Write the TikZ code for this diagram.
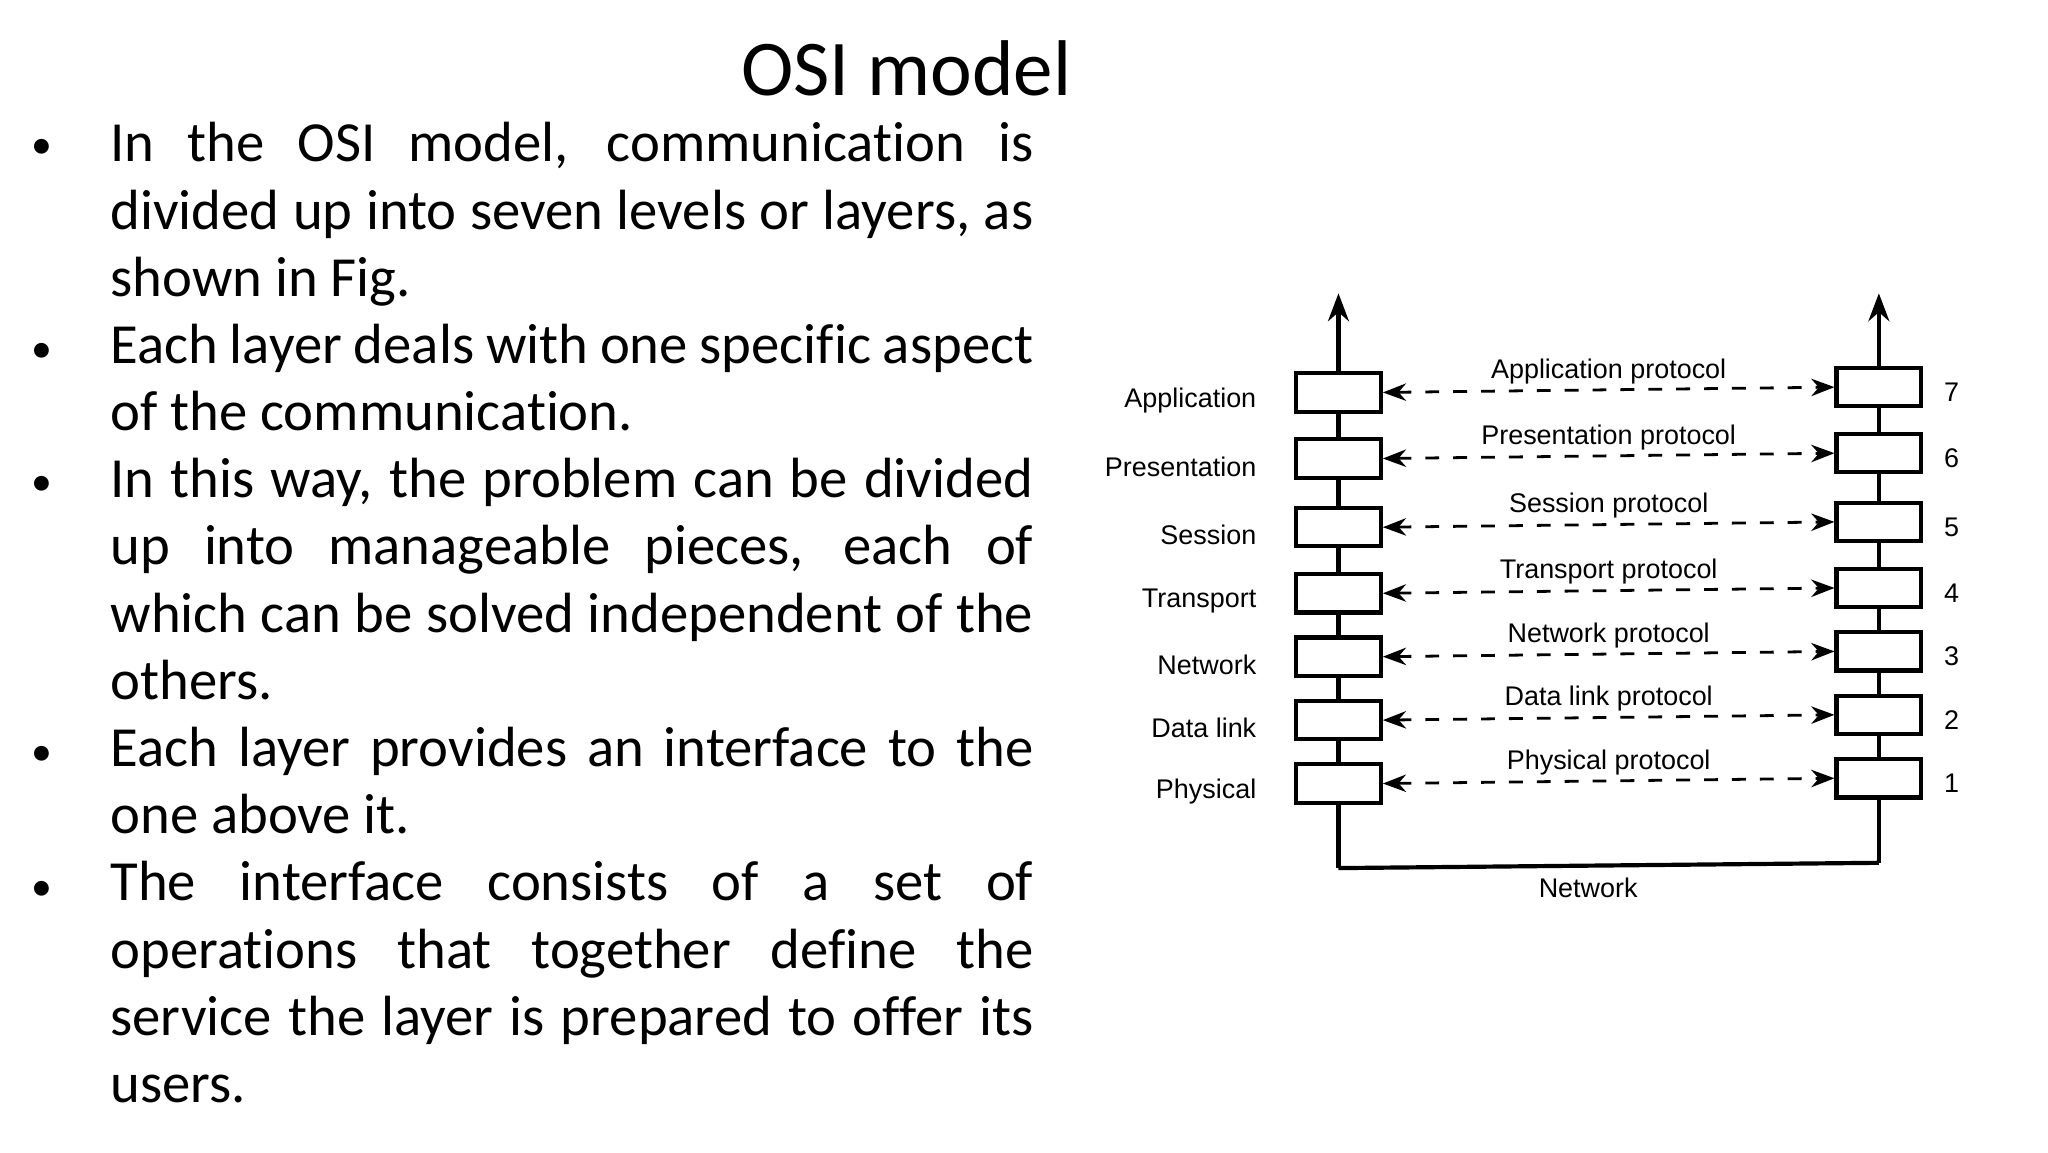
\documentclass[tikz,border=0pt]{standalone}
\usepackage{fontspec}
\setmainfont[Ligatures=NoCommon]{Carlito}
\newfontfamily\diag{Liberation Sans}
\usetikzlibrary{arrows.meta}
\begin{document}
\begin{tikzpicture}[x=0.01cm,y=-0.01cm,
  lay/.style={draw,line width=0.9pt,minimum width=0.64cm,minimum height=0.29cm,inner sep=0},
  lbl/.style={font=\diag\fontsize{5.8}{7}\selectfont,inner sep=1pt},
  proto/.style={dashed,line width=0.6pt,{Stealth[length=5pt]}-{Stealth[length=5pt]}},
  bul/.style={font=\fontsize{9}{10}\selectfont}]
\useasboundingbox (0,0) rectangle (1550,872);
\node[font=\fontsize{17}{20}\selectfont] (title) at (686,52) {OSI model};
\node[anchor=north west,inner sep=0,text width=6.98cm,align=justify,font=\fontsize{12.2}{14.46}\selectfont] (body) at (83,92) {\hyphenpenalty=10000
In the OSI model, communication is\linebreak divided up into seven levels or layers, as\linebreak shown in Fig.\par
Each layer deals with one specific aspect\linebreak of the communication.\par
In this way, the problem can be divided\linebreak up into manageable pieces, each of\linebreak which can be solved independent of the\linebreak others.\par
Each layer provides an interface to the\linebreak one above it.\par
The interface consists of a set of\linebreak operations that together define the\linebreak service the layer is prepared to offer its\linebreak users.\par};
\foreach \y [count=\i] in {113,267,368,572,674} \node[bul] (b\i) at (32,\y) {•};
% diagram
\coordinate (lt) at (1013,222); \coordinate (lb) at (1013,657);
\coordinate (rt) at (1422,222); \coordinate (rb) at (1422,653);
\draw[line width=0.9pt,-{Stealth[length=6pt]}] (lb) -- (lt);
\draw[line width=0.9pt,-{Stealth[length=6pt]}] (rb) -- (rt);
\draw[line width=0.9pt] (lb) -- (rb);
\node[lbl,anchor=north] (net) at (1202,660) {Network};
\foreach \y/\n/\p/\k in {297/Application/Application/7,347/Presentation/Presentation/6,399/Session/Session/5,449/Transport/Transport/4,497/Network/Network/3,545/Data link/Data link/2,593/Physical/Physical/1}{
  \node[lay,fill=white] (L\k) at (1013,\y) {};
  \node[lay,fill=white] (R\k) at (1422,\y-4) {};
  \node[lbl,anchor=east] (n\k) at (955,\y+6) {\n};
  \node[lbl] (k\k) at (1477,\y) {\k};
  \draw[proto] (L\k.east) -- (R\k.west) node[lbl,midway,above=0pt] (p\k) {\p\ protocol};
}
\end{tikzpicture}
\end{document}
